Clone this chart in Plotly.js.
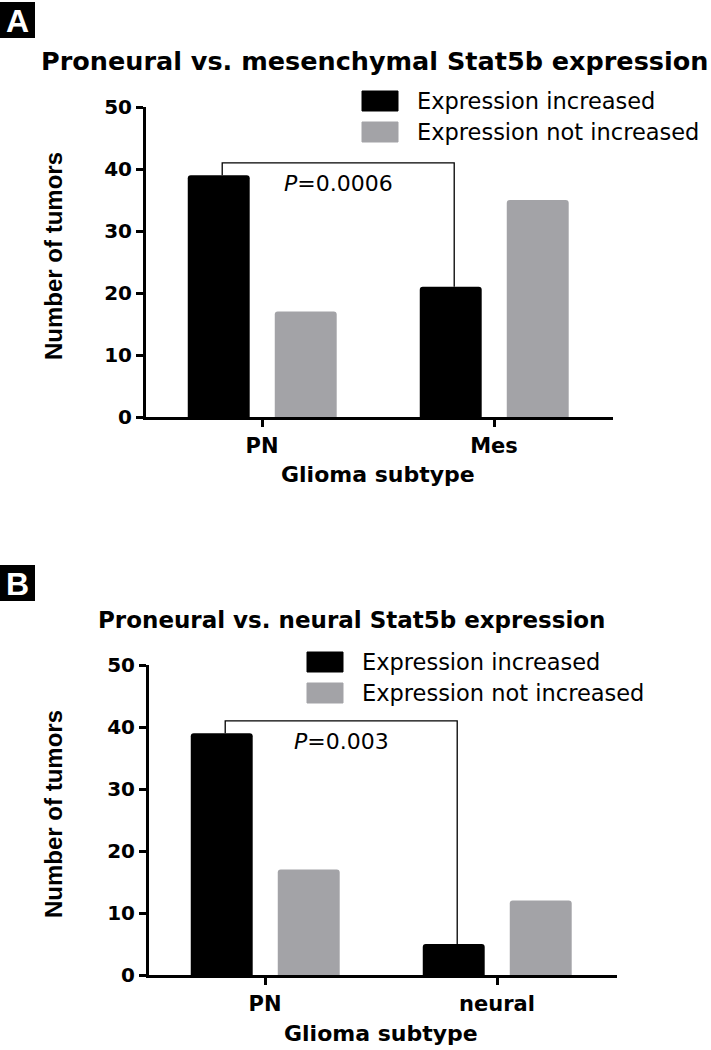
<!DOCTYPE html>
<html>
<head>
<meta charset="utf-8">
<script src="https://cdn.plot.ly/plotly-3.0.1.min.js"></script>
<style>html,body{margin:0;padding:0;background:#fff;}#chart{width:711px;height:1050px;}</style>
</head>
<body>
<div id="chart"></div>
<script>
// ---- data ----
const panelLabels = ["A", "B"];
const panelTitles = ["Proneural vs. mesenchymal Stat5b expression", "Proneural vs. neural Stat5b expression"];
const categoriesA = ["PN", "Mes"];
const categoriesB = ["PN", "neural"];
const seriesNames = ["Expression increased", "Expression not increased"];
const increasedA = [39, 21];
const notIncreasedA = [17, 35];
const increasedB = [39, 5];
const notIncreasedB = [17, 12];
const pValues = ["0.0006", "0.003"];
const yTickVals = [0, 10, 20, 30, 40, 50];
const xTitle = "Glioma subtype";
const yTitle = "Number of tumors";

// ---- style ----
const W = 711, H = 1050;
const colors = ["#000000", "#a3a3a7"];
const FONT = "DejaVu Sans";
const px = x => x / W;
const py = y => 1 - y / H;
const barW = 0.267, offInc = -0.32, offNot = 0.055;

const panels = [
  {cats: categoriesA, inc: increasedA, not: notIncreasedA, x0: 146, x1: 613, yTop: 107, yBot: 417,
   titleX: 374, titleY: 61, titleSize: 25.5, labelBox: [0, 2, 35, 38], legendX: 362, legendY: [101, 132], p: pValues[0]},
  {cats: categoriesB, inc: increasedB, not: notIncreasedB, x0: 149, x1: 617, yTop: 665, yBot: 975,
   titleX: 351, titleY: 620, titleSize: 23, labelBox: [0, 565, 35, 601], legendX: 307, legendY: [662, 693], p: pValues[1]}
];

const data = [];
const layout = {
  width: W, height: H, margin: {l: 0, r: 0, t: 0, b: 0},
  paper_bgcolor: "#fff", plot_bgcolor: "rgba(0,0,0,0)",
  showlegend: false, barmode: "overlay",
  shapes: [], annotations: []
};

panels.forEach((p, i) => {
  const sfx = i === 0 ? "" : "2";
  const xa = "x" + sfx, ya = "y" + sfx;
  data.push({type: "bar", x: p.cats, y: p.inc, name: seriesNames[0], xaxis: xa, yaxis: ya,
    width: barW, offset: offInc, marker: {color: colors[0], cornerradius: 3, line: {width: 0}}, hoverinfo: "skip"});
  data.push({type: "bar", x: p.cats, y: p.not, name: seriesNames[1], xaxis: xa, yaxis: ya,
    width: barW, offset: offNot, marker: {color: colors[1], cornerradius: 3, line: {width: 0}}, hoverinfo: "skip"});

  const catSpan = 232; // px per category
  const xr1 = -0.5 + (p.x1 - p.x0) / catSpan;
  layout["xaxis" + sfx] = {
    domain: [px(p.x0), px(p.x1)], anchor: ya, type: "category",
    range: [-0.5, xr1], showline: true, linewidth: 3, linecolor: "#000",
    ticks: "outside", ticklen: 7, tickwidth: 3, tickcolor: "#000",
    tickfont: {family: FONT, size: 21, weight: "bold", color: "#000"},
    ticklabelstandoff: 1,
    showgrid: false, zeroline: false, fixedrange: true
  };
  layout["yaxis" + sfx] = {
    domain: [py(p.yBot), py(p.yTop)], anchor: xa,
    range: [0, 50], tickvals: yTickVals, showline: true, linewidth: 3, linecolor: "#000",
    ticks: "outside", ticklen: 7, tickwidth: 3, tickcolor: "#000",
    tickfont: {family: FONT, size: 20, weight: "bold", color: "#000"},
    ticklabelstandoff: 0,
    showgrid: false, zeroline: false, fixedrange: true
  };

  // significance bracket between the two "increased" bars
  const xL = 0 + offInc + barW / 2 + 0.015;
  const xR = 1 + offInc + barW / 2 + 0.015;
  const yB = Math.max(p.inc[0], p.inc[1]) + 2;
  layout.shapes.push({type: "path", xref: xa, yref: ya,
    path: `M ${xL} ${p.inc[0]} L ${xL} ${yB} L ${xR} ${yB} L ${xR} ${p.inc[1]}`,
    line: {color: "#000", width: 1.3}});
  layout.annotations.push({xref: xa, yref: ya, x: (xL + xR) / 2, y: yB - 3.4,
    text: "<i>P</i>=" + p.p, showarrow: false, xanchor: "center", yanchor: "middle",
    font: {family: FONT, size: 22, color: "#000"}});

  // panel title
  layout.annotations.push({xref: "paper", yref: "paper", x: px(p.titleX), y: py(p.titleY),
    text: panelTitles[i], showarrow: false, xanchor: "center", yanchor: "middle",
    font: {family: FONT, size: p.titleSize, weight: "bold", color: "#000"}});

  // panel letter box
  const b = p.labelBox;
  layout.shapes.push({type: "rect", xref: "paper", yref: "paper", x0: px(b[0]), x1: px(b[2]), y0: py(b[3]), y1: py(b[1]),
    fillcolor: "#000", line: {width: 0}});
  layout.annotations.push({xref: "paper", yref: "paper", x: px((b[0] + b[2]) / 2), y: py((b[1] + b[3]) / 2 + 1),
    text: panelLabels[i], showarrow: false, xanchor: "center", yanchor: "middle",
    font: {family: "Liberation Sans", size: 32, weight: "bold", color: "#fff"}});

  // axis titles
  layout.annotations.push({xref: "paper", yref: "paper", x: px(53), y: py((p.yTop + p.yBot) / 2 - 6),
    text: yTitle, textangle: -90, showarrow: false, xanchor: "center", yanchor: "middle",
    font: {family: "Liberation Sans", size: 24, weight: "bold", color: "#000"}});
  layout.annotations.push({xref: "paper", yref: "paper", x: px(p.x0 + 232), y: py(p.yBot + 58),
    text: xTitle, showarrow: false, xanchor: "center", yanchor: "middle",
    font: {family: FONT, size: 22, weight: "bold", color: "#000"}});

  // legend (manual)
  seriesNames.forEach((nm, k) => {
    const cy = p.legendY[k];
    layout.shapes.push({type: "rect", xref: "paper", yref: "paper",
      x0: px(p.legendX), x1: px(p.legendX + 36), y0: py(cy + 10), y1: py(cy - 10),
      fillcolor: colors[k], line: {color: colors[k], width: 1}});
    layout.annotations.push({xref: "paper", yref: "paper", x: px(p.legendX + 53), y: py(cy),
      text: nm, showarrow: false, xanchor: "left", yanchor: "middle",
      font: {family: FONT, size: 22.5, color: "#000"}});
  });
});

Plotly.newPlot("chart", data, layout, {displayModeBar: false, staticPlot: true});
</script>
</body>
</html>
